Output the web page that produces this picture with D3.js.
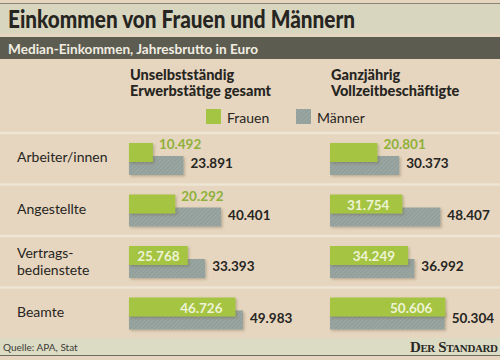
<!DOCTYPE html>
<html><head><meta charset="utf-8">
<script src="https://cdn.jsdelivr.net/npm/d3@7"></script>
<style>body{margin:0;background:#e4d5be}svg{display:block}</style>
</head><body><svg id="c" width="500" height="360"></svg>
<script>
// ---- data ----
const categories = ["Arbeiter/innen", "Angestellte", "Vertrags-\nbedienstete", "Beamte"];
const panelTitles = [["Unselbstständig", "Erwerbstätige gesamt"], ["Ganzjährig", "Vollzeitbeschäftigte"]];
const seriesNames = ["Frauen", "Männer"];
const frauenGesamt = [10492, 20292, 25768, 46726];
const maennerGesamt = [23891, 40401, 33393, 49983];
const frauenVollzeit = [20801, 31754, 34249, 50606];
const maennerVollzeit = [30373, 48407, 36992, 50304];

const panels = [
  {title: panelTitles[0], frauen: frauenGesamt, maenner: maennerGesamt, x0: 129},
  {title: panelTitles[1], frauen: frauenVollzeit, maenner: maennerVollzeit, x0: 330}
];

const fmt = d3.formatLocale({decimal: ",", thousands: ".", grouping: [3], currency: ["", "€"]}).format(",d");
const GREEN = "#a4c443", GRAY = "#929f9a", GREEN_TXT = "#8fb03a", DARK = "#262522";
const FONT = "Lato, 'Open Sans', sans-serif";

const svg = d3.select("#c");
const defs = svg.append("defs");
const pat = defs.append("pattern").attr("id", "hatch").attr("patternUnits", "userSpaceOnUse")
  .attr("width", 3).attr("height", 3).attr("patternTransform", "rotate(45)");
pat.append("rect").attr("width", 3).attr("height", 3).attr("fill", GRAY);
pat.append("rect").attr("width", 1).attr("height", 3).attr("fill", "#9da9a4");
const f = defs.append("filter").attr("id", "sh").attr("x", "-10%").attr("y", "-20%").attr("width", "130%").attr("height", "160%");
f.append("feDropShadow").attr("dx", 1.5).attr("dy", 1.5).attr("stdDeviation", 1).attr("flood-color", "#5a4a30").attr("flood-opacity", 0.3);

// background
svg.append("rect").attr("width", 500).attr("height", 360).attr("fill", "#e6d6bf");
// title band
svg.append("line").attr("x1", 0).attr("x2", 500).attr("y1", 3.5).attr("y2", 3.5).attr("stroke", "#8a8576").attr("stroke-width", 1);
svg.append("rect").attr("x", 0).attr("y", 4).attr("width", 500).attr("height", 30).attr("fill", "#d9d6bf");
svg.append("text").attr("x", 8).attr("y", 28).attr("font-family", FONT).attr("font-weight", 900)
  .attr("font-size", 24).attr("fill", DARK).attr("textLength", 347).attr("lengthAdjust", "spacingAndGlyphs")
  .text("Einkommen von Frauen und Männern");
// subtitle band
svg.append("rect").attr("x", 0).attr("y", 37).attr("width", 500).attr("height", 22).attr("fill", "#5d5c50");
svg.append("text").attr("x", 8).attr("y", 54).attr("font-family", FONT).attr("font-weight", 700)
  .attr("font-size", 14).attr("fill", "#f1ede2").attr("textLength", 250).attr("lengthAdjust", "spacingAndGlyphs")
  .text("Median-Einkommen, Jahresbrutto in Euro");

// scales
const x = d3.scaleLinear().domain([0, 50000]).range([0, 114]);
const y = d3.scalePoint().domain(categories).range([143, 297.5]);
const BH = 19, OFF = 13;

// row separators
svg.selectAll("line.sep").data(categories).join("line").attr("class", "sep")
  .attr("x1", 0).attr("x2", 500).attr("y1", d => y(d) - 10).attr("y2", d => y(d) - 10)
  .attr("stroke", "#eee5d5").attr("stroke-width", 2.5);

// row labels
categories.forEach(c => {
  const lines = c.split("\n");
  const t = svg.append("text").attr("font-family", FONT).attr("font-size", 14).attr("fill", DARK);
  lines.forEach((l, i) => {
    t.append("tspan").attr("x", 17)
      .attr("y", y(c) + (lines.length > 1 ? 12 + i * 17 : 19)).text(l);
  });
});

// legend
const legend = [{name: seriesNames[0], fill: GREEN, x: 206}, {name: seriesNames[1], fill: "url(#hatch)", x: 296}];
legend.forEach(l => {
  svg.append("rect").attr("x", l.x).attr("y", 109).attr("width", 15).attr("height", 15).attr("fill", l.fill);
  svg.append("text").attr("x", l.x + 21).attr("y", 123).attr("font-family", FONT).attr("font-size", 14)
    .attr("fill", DARK).text(l.name);
});

// panels
panels.forEach(p => {
  const g = svg.append("g").attr("transform", `translate(${p.x0},0)`);
  const ht = g.append("text").attr("font-family", FONT).attr("font-weight", 900).attr("font-size", 14.5).attr("fill", DARK);
  p.title.forEach((l, i) => ht.append("tspan").attr("x", 1).attr("y", 80 + i * 16).text(l));

  const rows = categories.map((c, i) => ({c, f: p.frauen[i], m: p.maenner[i]}));
  // Männer bars (behind)
  g.selectAll("rect.m").data(rows).join("rect").attr("class", "m")
    .attr("x", 0).attr("y", d => y(d.c) + OFF).attr("width", d => x(d.m)).attr("height", BH)
    .attr("fill", "url(#hatch)").attr("filter", "url(#sh)");
  // Frauen bars
  g.selectAll("rect.f").data(rows).join("rect").attr("class", "f")
    .attr("x", 0).attr("y", d => y(d.c)).attr("width", d => x(d.f)).attr("height", BH)
    .attr("fill", GREEN).attr("filter", "url(#sh)");
  // Männer labels
  g.selectAll("text.ml").data(rows).join("text").attr("class", "ml")
    .attr("x", d => x(d.m) + 7).attr("y", d => y(d.c) + OFF + 12)
    .attr("font-family", FONT).attr("font-weight", 700).attr("font-size", 13.5).attr("fill", DARK)
    .text(d => fmt(d.m));
  // Frauen labels
  g.selectAll("text.fl").data(rows).join("text").attr("class", "fl")
    .attr("font-family", FONT).attr("font-weight", 700).attr("font-size", 13.5)
    .text(d => fmt(d.f))
    .each(function(d) {
      const tw = this.getComputedTextLength();
      const w = x(d.f);
      const sel = d3.select(this);
      if (w >= tw + 10) {
        const pad = Math.min(13, (w - tw) / 2);
        sel.attr("x", w - pad).attr("text-anchor", "end").attr("y", y(d.c) + 15).attr("fill", "#eef3d6");
      } else {
        sel.attr("x", w + 6).attr("y", y(d.c) + 6).attr("fill", GREEN_TXT);
      }
    });
});

// footer
svg.append("rect").attr("x", 0).attr("y", 338).attr("width", 500).attr("height", 17).attr("fill", "#dcdcc5");
svg.append("line").attr("x1", 0).attr("x2", 500).attr("y1", 355.5).attr("y2", 355.5).attr("stroke", "#6f6c62").attr("stroke-width", 1);
svg.append("text").attr("x", 3).attr("y", 351).attr("font-family", FONT).attr("font-size", 10).attr("fill", "#3d3b36")
  .text("Quelle: APA, Stat");
svg.append("text").attr("x", 498).attr("y", 352).attr("text-anchor", "end").attr("font-family", "'Liberation Serif', serif")
  .attr("font-size", 15).attr("font-variant", "small-caps").attr("font-weight", 700).attr("fill", "#2a2925")
  .attr("textLength", 88).attr("lengthAdjust", "spacing")
  .text("Der Standard");
</script></body></html>
